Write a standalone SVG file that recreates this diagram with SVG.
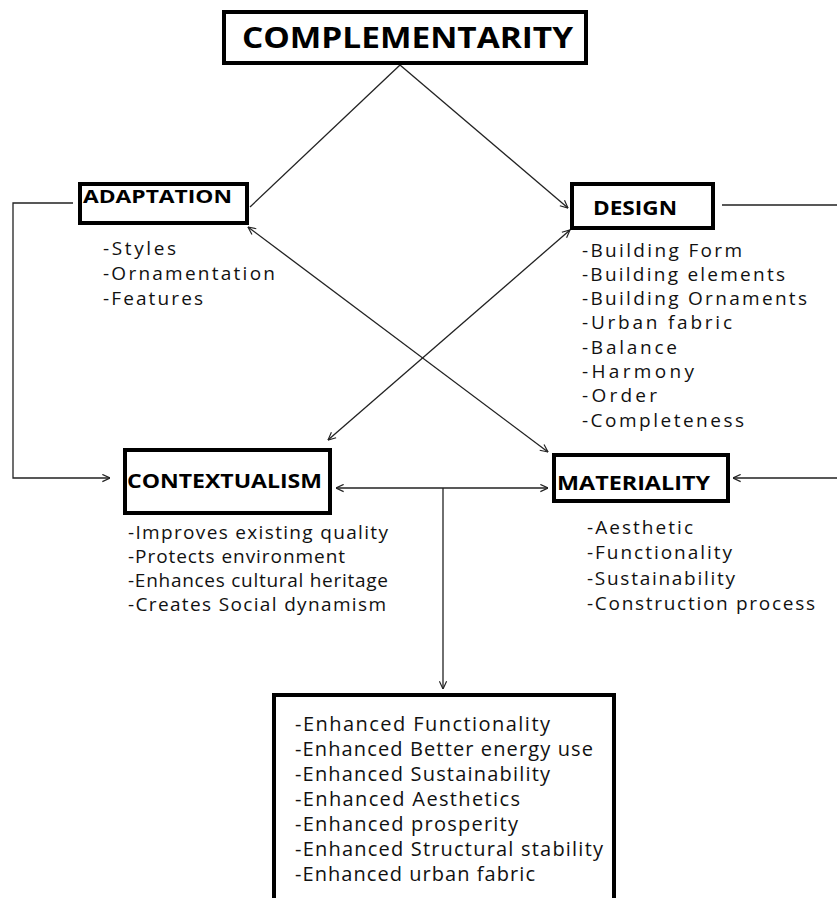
<svg xmlns="http://www.w3.org/2000/svg" width="837" height="898" viewBox="0 0 837 898">
<style>
.box{fill:#fff;stroke:#000;stroke-width:4}
.title{font-family:"Open Sans","DejaVu Sans",sans-serif;font-weight:bold;fill:#000}
.item{font-family:"Open Sans","DejaVu Sans",sans-serif;fill:#111}
.con{fill:none;stroke:#222;stroke-width:1.3}
</style>
<defs>
<marker id="ah" viewBox="0 0 10 10" refX="9.5" refY="5" markerWidth="9" markerHeight="9" markerUnits="userSpaceOnUse" orient="auto-start-reverse">
<path d="M1,1 L9.5,5 L1,9" fill="none" stroke="#222" stroke-width="1.3"/>
</marker>
</defs>
<rect width="837" height="898" fill="#fff"/>
<g id="connectors">
<line class="con" x1="400" y1="65" x2="250" y2="207"/>
<line class="con" x1="400" y1="65" x2="568" y2="208" marker-end="url(#ah)"/>
<line class="con" x1="570" y1="230" x2="328" y2="440" marker-start="url(#ah)" marker-end="url(#ah)"/>
<line class="con" x1="248" y1="227" x2="548" y2="452" marker-start="url(#ah)" marker-end="url(#ah)"/>
<polyline class="con" points="73,203 13,203 13,478 110,478" marker-end="url(#ah)"/>
<polyline class="con" points="722,205 845,205 845,478 733,478" marker-end="url(#ah)"/>
<line class="con" x1="336" y1="488" x2="548" y2="488" marker-start="url(#ah)" marker-end="url(#ah)"/>
<line class="con" x1="443" y1="488" x2="443" y2="689" marker-end="url(#ah)"/>
</g>
<g id="complementarity">
<rect class="box" x="224" y="12" width="362" height="51"/>
<text class="title" x="242" y="48" font-size="29" textLength="331" lengthAdjust="spacingAndGlyphs">COMPLEMENTARITY</text>
</g>
<g id="adaptation">
<rect class="box" x="80" y="184" width="167" height="39"/>
<text class="title" x="83" y="203" font-size="18" textLength="149" lengthAdjust="spacingAndGlyphs">ADAPTATION</text>
<text class="item" font-size="19">
<tspan x="103" y="255" textLength="73">-Styles</tspan>
<tspan x="103" y="280" textLength="172">-Ornamentation</tspan>
<tspan x="103" y="305" textLength="100">-Features</tspan>
</text>
</g>
<g id="design">
<rect class="box" x="572" y="184" width="141" height="44"/>
<text class="title" x="593" y="215" font-size="19" textLength="84" lengthAdjust="spacingAndGlyphs">DESIGN</text>
<text class="item" font-size="19">
<tspan x="582" y="257" textLength="160">-Building Form</tspan>
<tspan x="582" y="281" textLength="203">-Building elements</tspan>
<tspan x="582" y="305" textLength="225">-Building Ornaments</tspan>
<tspan x="582" y="329" textLength="150">-Urban fabric</tspan>
<tspan x="582" y="354" textLength="95">-Balance</tspan>
<tspan x="582" y="378" textLength="112">-Harmony</tspan>
<tspan x="582" y="402" textLength="75">-Order</tspan>
<tspan x="582" y="427" textLength="162">-Completeness</tspan>
</text>
</g>
<g id="contextualism">
<rect class="box" x="125" y="450" width="205" height="63"/>
<text class="title" x="127" y="488" font-size="19" textLength="195" lengthAdjust="spacingAndGlyphs">CONTEXTUALISM</text>
<text class="item" font-size="19">
<tspan x="128" y="539" textLength="260">-Improves existing quality</tspan>
<tspan x="128" y="563" textLength="217">-Protects environment</tspan>
<tspan x="128" y="587" textLength="260">-Enhances cultural heritage</tspan>
<tspan x="128" y="611" textLength="258">-Creates Social dynamism</tspan>
</text>
</g>
<g id="materiality">
<rect class="box" x="554" y="455" width="174" height="46"/>
<text class="title" x="557" y="490" font-size="19" textLength="153" lengthAdjust="spacingAndGlyphs">MATERIALITY</text>
<text class="item" font-size="19">
<tspan x="587" y="534" textLength="106">-Aesthetic</tspan>
<tspan x="587" y="559" textLength="145">-Functionality</tspan>
<tspan x="587" y="585" textLength="148">-Sustainability</tspan>
<tspan x="587" y="610" textLength="228">-Construction process</tspan>
</text>
</g>
<g id="outcomes">
<rect class="box" x="274" y="695" width="340" height="220"/>
<text class="item" font-size="20">
<tspan x="295" y="731" textLength="255">-Enhanced Functionality</tspan>
<tspan x="295" y="756" textLength="298">-Enhanced Better energy use</tspan>
<tspan x="295" y="781" textLength="255">-Enhanced Sustainability</tspan>
<tspan x="295" y="806" textLength="225">-Enhanced Aesthetics</tspan>
<tspan x="295" y="831" textLength="223">-Enhanced prosperity</tspan>
<tspan x="295" y="856" textLength="308">-Enhanced Structural stability</tspan>
<tspan x="295" y="881" textLength="240">-Enhanced urban fabric</tspan>
</text>
</g>
</svg>
